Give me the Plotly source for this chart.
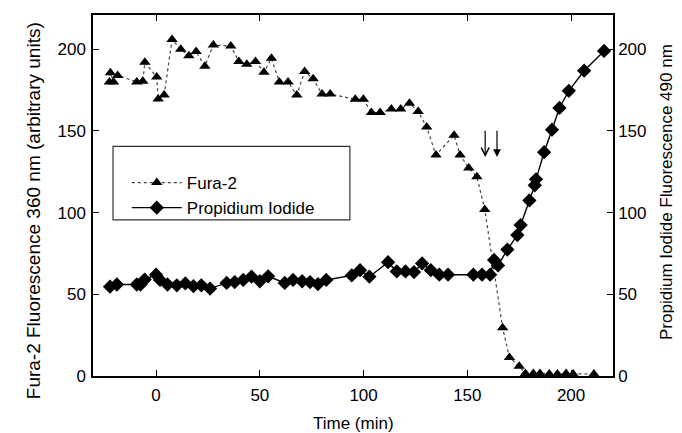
import plotly.graph_objects as go

# Fura-2 (triangles, dotted)
fura_t = [-22.5, -22, -20.5, -18.5, -9.3, -6.4, -5.4, 0.3, 1, 3.9, 7.7, 11.9, 15.8, 19.3, 23.5,
          27.6, 36, 39.9, 43.7, 47.9, 52, 55.6, 59.4, 63.6, 67.8, 71.6, 75.7, 80, 83.9, 96,
          99.9, 103.8, 108, 113.4, 117.9, 122.1, 126.3, 130.4, 134.9, 143.6, 146.5, 150.7, 154.6,
          158.4, 167, 170.3, 175, 178, 181.8, 185, 189.5, 193.4, 197.6, 201, 211]
fura_v = [180, 185.6, 180, 184, 180, 180.4, 192, 183, 169.5, 172, 206, 200, 196, 198.6, 189.7,
          202.6, 202, 192.5, 190.9, 192.5, 186, 194.5, 180, 180, 172, 186.4, 182, 172.6, 172.6, 169.4,
          169.4, 161.3, 161.3, 163.4, 163.4, 167, 162, 152.4, 135.3, 147.4, 135.3, 127.3, 122,
          102, 29.6, 11.4, 6, 1.5, 1.5, 1.5, 1.2, 1.2, 1.5, 1.2, 1.2]

# Propidium iodide (diamonds, solid)
pi_t = [-22.2, -18.9, -9.3, -7.5, -5.5, 0, 1.9, 5.5, 10, 14.1, 18, 21.8, 26, 34, 37.9, 42, 46,
        50, 54, 62, 66, 70.4, 74.2, 78, 82, 94.3, 98.3, 102.8, 111.8, 116, 120.2, 124.3, 128.2,
        132.4, 136.5, 140.7, 152.9, 157.1, 161, 162.9, 164.8, 169.3, 174.1, 175.7, 179.9, 182.5,
        183.1, 187, 190.8, 194.4, 198.9, 206.3, 215.9]
pi_v = [54.7, 56, 56, 56, 59, 62, 58.8, 56, 55.5, 56.7, 55, 55.5, 53.5, 57, 57.5, 58.8, 60.8,
        58, 61, 57, 58.8, 58, 57.5, 56.3, 58.8, 61.6, 64.8, 60.8, 69.7, 64, 64, 63.6, 68.9,
        64.8, 62, 62, 62, 62, 62, 71, 67.7, 77.4, 86.3, 92.4, 107.5, 116.7,
        120.4, 137, 150.8, 164.1, 174.6, 186.9, 199]

ticks = [0, 50, 100, 150, 200]
arrow_t = [158.6, 164.3]
arrow_top, arrow_bottom = 151, 134

FONT = "Liberation Sans, Arial, Helvetica, sans-serif"

fig = go.Figure()
fig.add_trace(go.Scatter(
    x=fura_t, y=fura_v, name="Fura-2", mode="lines+markers", cliponaxis=False,
    line={"color": "#444", "width": 1.2, "dash": "dot"},
    marker={"symbol": "triangle-up", "size": 10, "color": "black"},
))
fig.add_trace(go.Scatter(
    x=pi_t, y=pi_v, name="Propidium Iodide", mode="lines+markers", yaxis="y2", cliponaxis=False,
    line={"color": "black", "width": 1.4},
    marker={"symbol": "diamond", "size": 11, "color": "black"},
))

# arrows (open head and filled head)
for t, head in zip(arrow_t, [5, 2]):
    fig.add_annotation(x=t, y=arrow_bottom, ax=t, ay=arrow_top, xref="x", yref="y",
                       axref="x", ayref="y", text="", showarrow=True,
                       arrowhead=head, arrowsize=1.3, arrowwidth=1.2, arrowcolor="black")

# axis titles
fig.add_annotation(text="Fura-2 Fluorescence 360 nm (arbitrary units)", xref="paper", yref="paper",
                   x=-0.115, y=0.457, xanchor="center", textangle=-90, showarrow=False,
                   font={"size": 19, "color": "black", "family": FONT})
fig.add_annotation(text="Propidium Iodide Fluorescence 490 nm", xref="paper", yref="paper",
                   x=1.104, y=0.51, xanchor="center", textangle=-90, showarrow=False,
                   font={"size": 17, "color": "black", "family": FONT})
fig.add_annotation(text="Time (min)", xref="paper", yref="paper", x=0.5, y=-0.1,
                   yanchor="top", showarrow=False,
                   font={"size": 17, "color": "black", "family": FONT})

# legend frame
fig.add_shape(type="rect", xref="paper", yref="paper", x0=0.0385, x1=0.494, y0=0.4325, y1=0.636,
              line={"color": "#333", "width": 1.2}, fillcolor="rgba(0,0,0,0)")

axis_common = {
    "showline": True, "linecolor": "black", "linewidth": 1.5, "ticks": "inside",
    "ticklen": 6, "tickwidth": 1.2, "tickcolor": "black", "showgrid": False, "zeroline": False,
    "tickvals": ticks, "tickfont": {"size": 17, "color": "black", "family": FONT},
}

fig.update_layout(
    width=674, height=425,
    margin={"l": 85, "r": 69, "t": 5, "b": 57},
    paper_bgcolor="white", plot_bgcolor="white",
    font={"family": FONT, "color": "black"},
    xaxis={**axis_common, "range": [-30.4, 220.2], "mirror": "ticks", "ticklabelstandoff": 3},
    yaxis={**axis_common, "range": [0, 221], "ticklabelstandoff": 2},
    yaxis2={**axis_common, "range": [0, 221], "overlaying": "y", "side": "right"},
    legend={"x": 0.065, "y": 0.5, "xanchor": "left", "yanchor": "middle",
            "borderwidth": 0, "bgcolor": "rgba(0,0,0,0)",
            "font": {"size": 17, "color": "black", "family": FONT},
            "itemwidth": 50, "tracegroupgap": 0},
    showlegend=True,
)

fig.write_html("out.html")
